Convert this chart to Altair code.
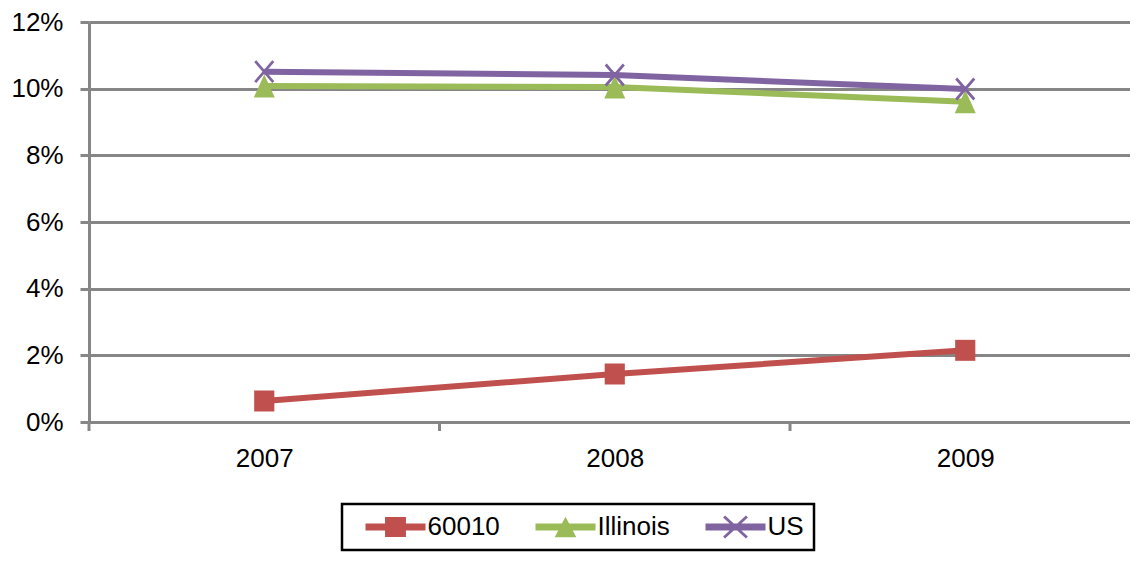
import math
import altair as alt
import pandas as pd

# ---- data ----
years = [2007, 2008, 2009]
series_names = ["60010", "Illinois", "US"]
v_60010 = [0.63, 1.44, 2.15]
v_illinois = [10.08, 10.05, 9.61]
v_us = [10.51, 10.41, 9.99]
y_ticks = [0, 2, 4, 6, 8, 10, 12]
category_bounds = [2006.5, 2007.5, 2008.5]

colors = ["#C0504D", "#9BBB59", "#8064A2"]
GRAY = "#868686"
FONT = "Liberation Sans"

rows = []
for name, vals in zip(series_names, [v_60010, v_illinois, v_us]):
    for yr, v in zip(years, vals):
        rows.append({"series": name, "year": yr, "value": v})
df = pd.DataFrame(rows)
bounds_df = pd.DataFrame({"year": category_bounds})


# ---- marker shapes (SVG paths) ----
def rect(x0, y0, x1, y1):
    return f"M{x0},{y0}H{x1}V{y1}H{x0}Z"


def tri(hw, top, bottom):
    return f"M0,{top}L{hw},{bottom}L{-hw},{bottom}Z"


def seg(x1, y1, x2, y2, t):
    dx, dy = x2 - x1, y2 - y1
    L = math.hypot(dx, dy)
    nx, ny = -dy / L * t, dx / L * t
    pts = [(x1 - nx, y1 - ny), (x2 - nx, y2 - ny), (x2 + nx, y2 + ny), (x1 + nx, y1 + ny)]
    return "M" + "L".join(f"{a:.3f},{b:.3f}" for a, b in pts) + "Z"


def xmark(hw, hh, t):
    return seg(-hw, -hh, hw, hh, t) + seg(-hw, hh, hw, -hh, t)


main_shapes = [rect(-0.96, -1, 0.96, 1), tri(1.0, -1.1, 1.1), xmark(0.86, 1.0, 0.13)]
line_part = rect(-2.5, -0.3, 2.5, 0.3)
legend_shapes = [
    line_part + rect(-0.87, -0.83, 0.87, 0.83),
    line_part + tri(0.9, -0.85, 0.85),
    line_part + xmark(0.95, 0.87, 0.12),
]

x_scale = alt.Scale(domain=[2006.5, 2009.47], nice=False, zero=False)
y_scale = alt.Scale(domain=[0, 12], nice=False)

x_axis = alt.Axis(values=years, format="d", ticks=False, tickSize=0, grid=False,
                  labelFontSize=26, labelPadding=23, labelFlush=False,
                  domainColor=GRAY, domainWidth=3, title=None)
y_axis = alt.Axis(values=y_ticks, labelExpr="datum.value + '%'", labelFontSize=26,
                  labelPadding=17, tickSize=9, tickWidth=3, tickColor=GRAY,
                  grid=True, gridColor=GRAY, gridWidth=3,
                  domainColor=GRAY, domainWidth=3, title=None)

X = alt.X("year:Q", scale=x_scale, axis=x_axis)
Y = alt.Y("value:Q", scale=y_scale, axis=y_axis)

color_scale = alt.Scale(domain=series_names, range=colors)

legend = alt.Legend(
    orient="none", legendX=253, legendY=482, direction="horizontal", title=None,
    labelFont=FONT, labelFontSize=26, labelColor="black",
    symbolSize=576, symbolStrokeWidth=0, symbolOffset=30.5, labelOffset=19,
    columnPadding=22, padding=10, strokeColor="black",
)

ticks = alt.Chart(bounds_df).mark_rule(color=GRAY, strokeWidth=3).encode(
    x=alt.X("year:Q", scale=x_scale, axis=x_axis),
    y=alt.value(400), y2=alt.value(409),
)

lines = alt.Chart(df).mark_line(strokeWidth=6).encode(
    x=X, y=Y,
    color=alt.Color("series:N", scale=color_scale, legend=None),
)

points = alt.Chart(df).mark_point(filled=True, opacity=1, size=441, strokeWidth=0).encode(
    x=X, y=Y,
    color=alt.Color("series:N", scale=color_scale, legend=None),
    shape=alt.Shape("series:N", scale=alt.Scale(domain=series_names, range=main_shapes), legend=None),
)

legend_layer = alt.Chart(df).transform_filter("false").mark_point(
    filled=True, opacity=1, strokeWidth=0
).encode(
    x=X, y=Y,
    color=alt.Color("series:N", scale=color_scale, legend=legend),
    shape=alt.Shape("series:N", scale=alt.Scale(domain=series_names, range=legend_shapes), legend=legend),
)

chart = alt.layer(ticks, lines, points, legend_layer).resolve_scale(
    color="independent", shape="independent"
).properties(
    width=1041, height=400,
    autosize=alt.AutoSizeParams(type="none"),
    padding={"left": 81, "top": 14, "right": 0, "bottom": 134},
).configure_view(stroke=None).configure_axis(
    labelFont=FONT, labelColor="black"
).configure_legend(strokeWidth=2.5)

chart.save("out.html", embed_options={"renderer": "svg", "actions": False})
